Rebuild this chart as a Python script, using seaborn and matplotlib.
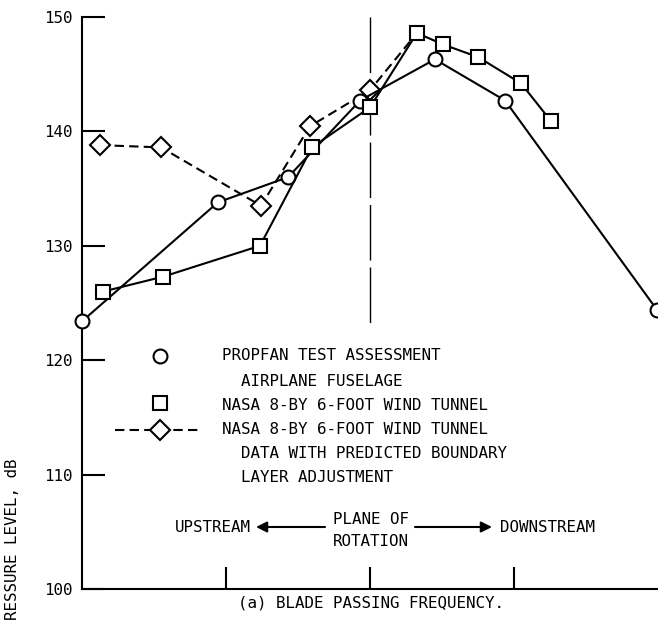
import matplotlib
matplotlib.use("Agg")
import matplotlib.pyplot as plt
import seaborn as sns
import numpy as np

# ---- data (x: position relative to plane of rotation, y: SPL in dB) ----
propfan_x = [-2.0, -1.056, -0.569, -0.069, 0.451, 0.938, 1.993]
propfan_y = [123.4, 133.8, 136.0, 142.7, 146.3, 142.7, 124.4]

tunnel_x = [-1.854, -1.437, -0.764, -0.403, 0.0, 0.326, 0.507, 0.75, 1.049, 1.257]
tunnel_y = [126.0, 127.3, 130.0, 138.6, 142.1, 148.6, 147.6, 146.5, 144.2, 140.9]

adjusted_x = [-1.875, -1.451, -0.757, -0.417, 0.0, 0.326]
adjusted_y = [138.8, 138.6, 133.5, 140.45, 143.6, 148.6]

y_ticks = [100, 110, 120, 130, 140, 150]
x_ticks = [-1, 0, 1]

legend_lines = [
    "PROPFAN TEST ASSESSMENT",
    "  AIRPLANE FUSELAGE",
    "NASA 8-BY 6-FOOT WIND TUNNEL",
    "NASA 8-BY 6-FOOT WIND TUNNEL",
    "  DATA WITH PREDICTED BOUNDARY",
    "  LAYER ADJUSTMENT",
]

sns.set_style("ticks")
plt.rcParams['font.family'] = ['DejaVu Sans Mono', 'DejaVu Sans']
for k in ['text.color', 'xtick.color', 'ytick.color', 'axes.labelcolor', 'axes.edgecolor']:
    plt.rcParams[k] = 'black'
FS = 11.4

fig = plt.figure(figsize=(6.58, 6.24), dpi=100)
ax = fig.add_axes([82/658, 35/624, 576/658, 572/624])

common = dict(color='black', linewidth=1.5, markersize=10, markerfacecolor='white',
              markeredgecolor='black', markeredgewidth=1.5, clip_on=False)

# last diamond coincides with (and is hidden by) a square
sns.lineplot(x=adjusted_x, y=adjusted_y, ax=ax, marker='D', linestyle=(0, (4.5, 2.5)),
             markevery=list(range(len(adjusted_x) - 1)), **common, zorder=3)
sns.lineplot(x=propfan_x, y=propfan_y, ax=ax, marker='o', **common, zorder=4)
sns.lineplot(x=tunnel_x, y=tunnel_y, ax=ax, marker='s', **common, zorder=5)

# plane of rotation line
ax.plot([0, 0], [150, 123.0], color='black', lw=1.0, linestyle=(0, (40, 5)), zorder=1)

ax.set_xlim(-2, 2)
ax.set_ylim(100, 150)
ax.set_xticks(x_ticks)
ax.set_xticklabels([])
ax.set_yticks(y_ticks)
ax.set_yticklabels([str(v) for v in y_ticks], fontsize=FS)
ax.tick_params(axis='y', direction='in', length=16.5, width=1.5, pad=7)
ax.tick_params(axis='x', direction='in', length=16, width=1.5)
sns.despine(ax=ax, top=True, right=True)
for s in ['left', 'bottom']:
    ax.spines[s].set_linewidth(1.5)
ax.set_xlabel("")
ax.set_ylabel("")

# ---- manual legend ----
def py2v(py):
    return 100 + (589 - py) / 11.44

def px2x(px):
    return (px - 82) / 144 - 2

text_y = [356, 381, 405, 430, 454, 478]
for line, py in zip(legend_lines, text_y):
    ax.text(px2x(222), py2v(py), line, fontsize=FS, ha='left', va='center')

mk = dict(color='black', markerfacecolor='white', markeredgecolor='black', markeredgewidth=1.5)
ax.plot([px2x(160)], [py2v(356)], marker='o', markersize=10, linestyle='none', **mk)
ax.plot([px2x(160)], [py2v(403)], marker='s', markersize=10, linestyle='none', **mk)
ax.plot([px2x(115), px2x(200)], [py2v(430)] * 2, color='black', lw=1.5,
        linestyle=(0, (4.5, 2.5)))
ax.plot([px2x(160)], [py2v(430)], marker='D', markersize=10, linestyle='none', **mk)

# ---- direction annotations ----
ya = py2v(527)
ax.text(px2x(175), ya, "UPSTREAM", fontsize=FS, ha='left', va='center')
ax.text(px2x(500), ya, "DOWNSTREAM", fontsize=FS, ha='left', va='center')
ax.text(px2x(333), py2v(519), "PLANE OF", fontsize=FS, ha='left', va='center')
ax.text(px2x(333), py2v(541), "ROTATION", fontsize=FS, ha='left', va='center')
arw = dict(arrowstyle='-|>', lw=1.5, color='black', mutation_scale=16,
           shrinkA=0, shrinkB=0)
ax.annotate("", xy=(px2x(256), ya), xytext=(px2x(325), ya), arrowprops=arw)
ax.annotate("", xy=(px2x(492), ya), xytext=(px2x(415), ya), arrowprops=arw)

# caption and cropped y label
fig.text(371/658, 1 - 603/624, "(a) BLADE PASSING FREQUENCY.", fontsize=FS,
         ha='center', va='center')
fig.text(13/658, (624 - 458)/624, "RESSURE LEVEL, dB", fontsize=FS, rotation=90,
         ha='center', va='top')

fig.savefig("out.png", dpi=100)
